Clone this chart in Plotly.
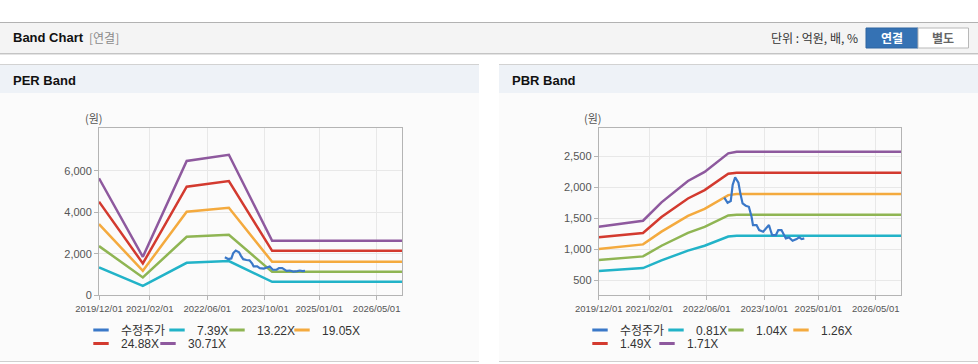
import plotly.graph_objects as go

W, H = 978, 364

# ---------------- data ----------------
tick_vals = ["2019-12-01", "2021-02-01", "2022-06-01", "2023-10-01", "2025-01-01", "2026-05-01"]
tick_text = ["2019/12/01", "2021/02/01", "2022/06/01", "2023/10/01", "2025/01/01", "2026/05/01"]

price_dates = ["2022-10-28", "2022-11-25", "2022-12-22", "2023-01-07", "2023-01-28", "2023-02-25",
               "2023-03-13", "2023-04-01", "2023-04-28", "2023-05-24", "2023-06-16", "2023-06-28",
               "2023-07-28", "2023-08-19", "2023-09-22", "2023-10-22", "2023-11-10", "2023-11-25",
               "2023-12-07", "2024-01-08", "2024-01-28", "2024-02-24", "2024-03-16", "2024-04-01",
               "2024-04-28", "2024-05-28", "2024-07-01", "2024-07-22", "2024-08-13", "2024-09-04"]
price = [1830, 1749, 1776, 2034, 2157, 2071, 1900, 1739, 1701, 1685, 1524, 1390,
         1390, 1310, 1283, 1347, 1390, 1299, 1230, 1230, 1310, 1310, 1230, 1176,
         1192, 1138, 1165, 1192, 1165, 1176]

per_dates = ["2019-12-01", "2020-12-05", "2021-12-10", "2022-12-01", "2023-12-01", "2026-12-01"]
per_labels = ["7.39X", "13.22X", "19.05X", "24.88X", "30.71X"]
per_7_39 = [1340, 450, 1563, 1650, 644, 644]
per_13_22 = [2371, 856, 2821, 2918, 1128, 1128]
per_19_05 = [3436, 1176, 4031, 4225, 1611, 1611]
per_24_88 = [4515, 1533, 5241, 5516, 2144, 2144]
per_30_71 = [5646, 1853, 6484, 6780, 2628, 2628]

pbr_dates = ["2019-12-01", "2020-12-10", "2021-05-15", "2021-12-25", "2022-05-15",
             "2022-12-01", "2023-02-10", "2026-12-01"]
pbr_labels = ["0.81X", "1.04X", "1.26X", "1.49X", "1.71X"]
pbr_0_81 = [651, 699, 822, 980, 1058, 1205, 1218, 1218]
pbr_1_04 = [828, 887, 1058, 1265, 1360, 1545, 1556, 1556]
pbr_1_26 = [1004, 1080, 1285, 1537, 1650, 1872, 1888, 1888]
pbr_1_49 = [1193, 1262, 1520, 1818, 1952, 2215, 2232, 2232]
pbr_1_71 = [1363, 1460, 1755, 2100, 2245, 2543, 2569, 2569]

price_label = "수정주가"

# ---------------- style ----------------
PRICE_C = "#3a78c8"
BAND_C = ["#22b3c8", "#8fb553", "#f4aa3e", "#d33a2f", "#8e599e"]
FONT = "Liberation Sans, Arial, Noto Sans CJK KR, sans-serif"
KFONT = "Noto Sans CJK KR, Liberation Sans, sans-serif"


def px(x):
    return x / W


def py(y):
    return 1 - y / H


fig = go.Figure()

per_series = [per_7_39, per_13_22, per_19_05, per_24_88, per_30_71]
pbr_series = [pbr_0_81, pbr_1_04, pbr_1_26, pbr_1_49, pbr_1_71]

for xa, ya, dates, series in [("x", "y", per_dates, per_series), ("x2", "y2", pbr_dates, pbr_series)]:
    for vals, c in zip(series, BAND_C):
        fig.add_trace(go.Scatter(x=dates, y=vals, mode="lines", line=dict(color=c, width=2.5),
                                 xaxis=xa, yaxis=ya, showlegend=False, hoverinfo="x+y"))
    fig.add_trace(go.Scatter(x=price_dates, y=price, mode="lines", line=dict(color=PRICE_C, width=2.2),
                             xaxis=xa, yaxis=ya, showlegend=False, hoverinfo="x+y"))


# legend entries (short dash symbols)
def legend_entry(name, color, legend, width):
    fig.add_trace(go.Scatter(x=[None], y=[None], mode="markers", name=name,
                             marker=dict(symbol="line-ew", size=11, color=color,
                                         line=dict(width=3, color=color)),
                             legend=legend, legendwidth=width, xaxis="x", yaxis="y"))


for labels, l1, l2 in [(per_labels, "legend", "legend2"), (pbr_labels, "legend3", "legend4")]:
    legend_entry(price_label, PRICE_C, l1, 31)
    legend_entry(labels[0], BAND_C[0], l1, 15)
    legend_entry(labels[1], BAND_C[1], l1, 20)
    legend_entry(labels[2], BAND_C[2], l1, 40)
    legend_entry(labels[3], BAND_C[3], l2, 22)
    legend_entry(labels[4], BAND_C[4], l2, 40)

leg_common = dict(orientation="h", xanchor="left", yanchor="middle", bgcolor="rgba(0,0,0,0)",
                  font=dict(family=FONT, size=12, color="#333"), itemwidth=30,
                  borderwidth=0, itemclick=False, itemdoubleclick=False)
ROW1, ROW2 = 330, 343.5
fig.update_layout(
    legend=dict(x=px(81), y=py(ROW1), **leg_common),
    legend2=dict(x=px(81), y=py(ROW2), **leg_common),
    legend3=dict(x=px(580), y=py(ROW1), **leg_common),
    legend4=dict(x=px(580), y=py(ROW2), **leg_common),
)

axis_common = dict(showline=True, linecolor="#b4b4b4", linewidth=1, mirror=True,
                   ticks="outside", ticklen=4, tickcolor="#b4b4b4", automargin=False,
                   gridcolor="#e8e8e8", gridwidth=1, zeroline=False)
xfont = dict(family=FONT, size=9.5, color="#555")
yfont = dict(family=FONT, size=11, color="#555")
ydom = [py(295.2), py(128.3)]
fig.update_layout(
    xaxis=dict(domain=[px(99), px(402)], type="date", range=["2019-12-01", "2026-12-01"],
               tickvals=tick_vals, ticktext=tick_text, tickangle=0, tickfont=xfont,
               anchor="y", **axis_common),
    yaxis=dict(domain=ydom, range=[0, 8060], tickvals=[0, 2000, 4000, 6000], tickformat=",d",
               tickfont=yfont, anchor="x", **axis_common),
    xaxis2=dict(domain=[px(598.7), px(901)], type="date", range=["2019-12-01", "2026-12-01"],
                tickvals=tick_vals, ticktext=tick_text, tickangle=0, tickfont=xfont,
                anchor="y2", **axis_common),
    yaxis2=dict(domain=ydom, range=[263, 2946], tickvals=[500, 1000, 1500, 2000, 2500], tickformat=",d",
                tickfont=yfont, anchor="x2", **axis_common),
)

# ---------------- page decorations ----------------
shapes = []


def rect(x0, y0, x1, y1, fill, line=None, lw=0):
    shapes.append(dict(type="rect", xref="paper", yref="paper", x0=px(x0), x1=px(x1),
                       y0=py(y1), y1=py(y0), fillcolor=fill, layer="below",
                       line=dict(width=lw, color=line or fill)))


def hline(x0, x1, y, color, w=1):
    shapes.append(dict(type="line", xref="paper", yref="paper", x0=px(x0), x1=px(x1),
                       y0=py(y), y1=py(y), layer="below", line=dict(color=color, width=w)))


# top header bar
rect(0, 22, 978, 53, "#f4f4f4")
hline(0, 978, 22.5, "#b2b2b2")
hline(0, 978, 53.5, "#c4c4c4")
hline(0, 978, 54.5, "#e4e4e4")
# panels
for x0, x1 in [(0, 479), (499, 978)]:
    rect(x0, 64, x1, 93, "#eef2f7")
    hline(x0, x1, 64.5, "#d2d2d2")
    rect(x0, 93, x1, 361, "#fbfbfb")
    hline(x0, x1, 361.5, "#cfcfcf")
# buttons
rect(866, 28, 918, 48, "#3572b4", "#2e64a0", 1)
rect(918, 28, 968.5, 48, "#ffffff", "#b8b8b8", 1)

ann = []


def text(x, y, s, size=12, color="#222", bold=False, anchor="left", family=KFONT):
    if bold:
        s = "<b>" + s + "</b>"
    ann.append(dict(xref="paper", yref="paper", x=px(x), y=py(y), text=s, showarrow=False,
                    xanchor=anchor, yanchor="middle", font=dict(size=size, color=color, family=family)))


text(11, 38, "Band Chart", 13, "#111", True, family=FONT)
text(87, 38, "[연결]", 12, "#8a8a8a")
text(860, 38, "단위 : 억원, 배, %", 12, "#333", anchor="right")
text(892, 38, "연결", 12, "#ffffff", True, anchor="center")
text(943, 38, "별도", 12, "#666666", True, anchor="center")
text(11, 80, "PER Band", 13, "#111", True, family=FONT)
text(510, 80, "PBR Band", 13, "#111", True, family=FONT)
text(94, 118, "(원)", 11, "#555", anchor="center")
text(593, 118, "(원)", 11, "#555", anchor="center")

fig.update_layout(
    width=W, height=H, margin=dict(l=0, r=0, t=0, b=0, autoexpand=False),
    paper_bgcolor="#ffffff", plot_bgcolor="#ffffff",
    shapes=shapes, annotations=ann, hovermode="closest",
    font=dict(family=FONT, color="#555"),
)

fig.write_html("out.html", config={"displayModeBar": False},
               post_script="document.body.style.margin='0';document.body.style.overflow='hidden';")
